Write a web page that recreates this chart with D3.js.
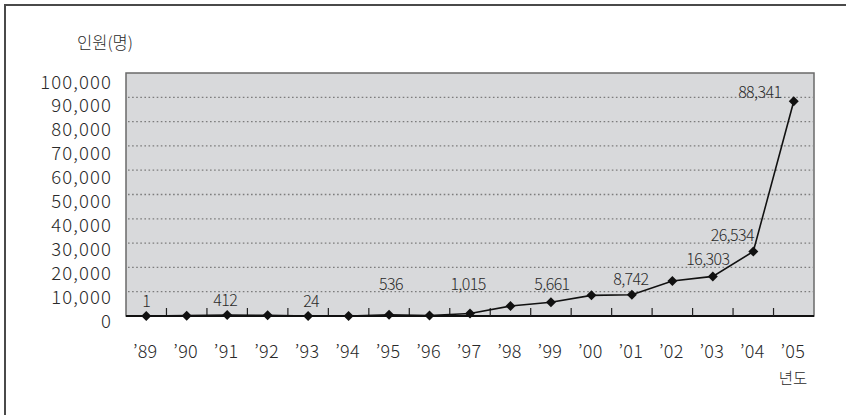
<!DOCTYPE html>
<html>
<head>
<meta charset="utf-8">
<script src="https://cdn.jsdelivr.net/npm/d3@7/dist/d3.min.js"></script>
<style>
  html, body { margin: 0; padding: 0; background: #fff; }
  svg { display: block; }
  text { font-family: "Noto Sans CJK KR", "Noto Sans", sans-serif; font-weight: 300; fill: #2a2a2a; }
</style>
</head>
<body>
<script>
// Yearly head count, 1989–2005
const years = ["89", "90", "91", "92", "93", "94", "95", "96", "97",
               "98", "99", "00", "01", "02", "03", "04", "05"];
const people = [1, 150, 412, 300, 24, 10, 536, 200, 1015,
                4100, 5661, 8500, 8742, 14400, 16303, 26534, 88341];
// Years that carry a printed value
const labelledYears = ["89", "91", "93", "95", "97", "99", "01", "03", "04", "05"];
const yTicks = [0, 10000, 20000, 30000, 40000, 50000, 60000, 70000, 80000, 90000, 100000];

// Placement of each printed value relative to its marker (px)
const labelOffsets = {
  "89": [0, -16], "91": [-2, -16], "93": [3, -16], "95": [2, -32], "97": [-2, -31],
  "99": [1, -19], "01": [-1, -17], "03": [-5, -18], "04": [-21, -18], "05": [-34, -10]
};

const W = 846, H = 415;
const plot = { left: 126, right: 814, top: 73, bottom: 316 };

const svg = d3.select("body").append("svg").attr("width", W).attr("height", H);

// Outer frame (open on the right and bottom edges)
svg.append("rect")
  .attr("x", 5).attr("y", 5).attr("width", W + 10).attr("height", H + 10)
  .attr("fill", "#fff").attr("stroke", "#4a4a4a").attr("stroke-width", 2);

const x = d3.scaleBand().domain(years).range([plot.left, plot.right]);
const y = d3.scaleLinear().domain([0, 100000]).range([plot.bottom, plot.top]);
const yLabel = d3.scaleLinear().domain([0, 100000]).range([319.5, 80.5]);
const fmt = d3.format(",");

// Plot background
svg.append("rect")
  .attr("x", plot.left).attr("y", plot.top)
  .attr("width", plot.right - plot.left).attr("height", plot.bottom - plot.top)
  .attr("fill", "#d8d9db").attr("stroke", "#6a6a6a").attr("stroke-width", 1.5);

// Dotted gridlines
svg.append("g").selectAll("line")
  .data(yTicks.filter(v => v > 0 && v < 100000))
  .join("line")
  .attr("x1", plot.left + 2).attr("x2", plot.right - 1)
  .attr("y1", d => y(d)).attr("y2", d => y(d))
  .attr("stroke", "#7c7c7c").attr("stroke-width", 1.3)
  .attr("stroke-dasharray", "1.6,2.5");

// Baseline
svg.append("line")
  .attr("x1", plot.left).attr("x2", plot.right)
  .attr("y1", y(0)).attr("y2", y(0))
  .attr("stroke", "#111").attr("stroke-width", 2);

// Category separators pointing up into the plot
svg.append("g").selectAll("line")
  .data(years.slice(1))
  .join("line")
  .attr("x1", d => x(d)).attr("x2", d => x(d))
  .attr("y1", y(0)).attr("y2", y(0) - 8)
  .attr("stroke", "#222").attr("stroke-width", 1.2);

// Y tick labels
svg.append("g").selectAll("text")
  .data(yTicks)
  .join("text")
  .attr("x", 112).attr("y", d => yLabel(d))
  .attr("text-anchor", "end").attr("dominant-baseline", "central")
  .style("font-size", "18.5px").style("letter-spacing", "1.1px")
  .text(d => fmt(d));

// X tick labels
svg.append("g").selectAll("text")
  .data(years)
  .join("text")
  .attr("x", d => x(d) + x.bandwidth() / 2 - 1).attr("y", 349.5)
  .attr("text-anchor", "middle").attr("dominant-baseline", "central")
  .style("font-size", "18px").style("letter-spacing", "0.3px")
  .text(d => "\u2019" + d);

// Axis titles
svg.append("text")
  .attr("x", 105).attr("y", 42).attr("text-anchor", "middle").attr("dominant-baseline", "central")
  .style("font-size", "16.5px").text("인원(명)");
svg.append("text")
  .attr("x", 793).attr("y", 377).attr("text-anchor", "middle").attr("dominant-baseline", "central")
  .style("font-size", "15.5px").text("년도");

// Series line
const pts = years.map((yr, i) => ({ yr, v: people[i] }));
const cx = d => x(d.yr) + x.bandwidth() / 2;
svg.append("path")
  .datum(pts)
  .attr("fill", "none").attr("stroke", "#111").attr("stroke-width", 1.6)
  .attr("d", d3.line().x(cx).y(d => y(d.v)));

// Diamond markers
svg.append("g").selectAll("path")
  .data(pts)
  .join("path")
  .attr("transform", d => `translate(${cx(d)},${y(d.v)}) rotate(45)`)
  .attr("d", d3.symbol().type(d3.symbolSquare).size(50))
  .attr("fill", "#111");

// Value labels
svg.append("g").selectAll("text")
  .data(pts.filter(d => labelledYears.includes(d.yr)))
  .join("text")
  .attr("x", d => cx(d) + labelOffsets[d.yr][0])
  .attr("y", d => y(d.v) + labelOffsets[d.yr][1])
  .attr("text-anchor", "middle").attr("dominant-baseline", "central")
  .style("font-size", "16px").style("letter-spacing", "-0.6px")
  .text(d => fmt(d.v));
</script>
</body>
</html>
